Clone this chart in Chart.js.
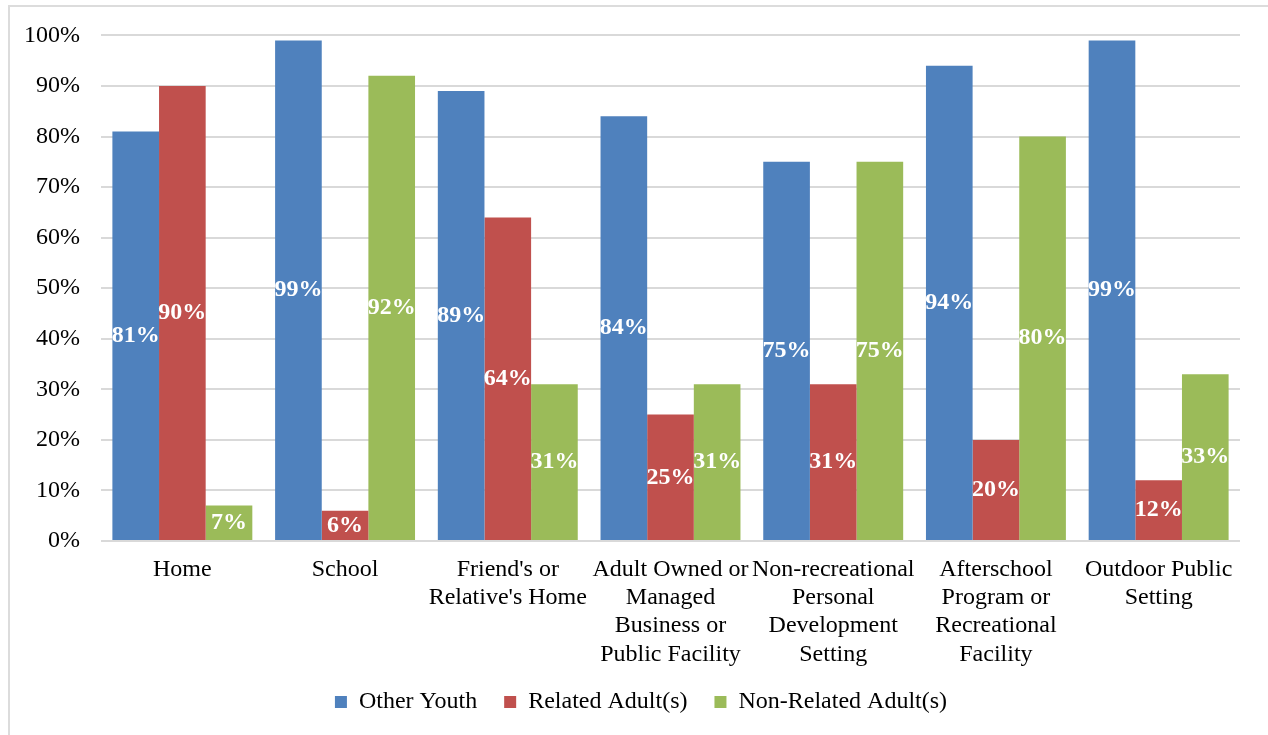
<!DOCTYPE html>
<html>
<head>
<meta charset="utf-8">
<script src="https://cdn.jsdelivr.net/npm/chart.js@4"></script>
<style>
  html, body { margin: 0; padding: 0; background: #fff; overflow: hidden; }
  #frame {
    position: absolute; left: 8px; top: 5px;
    width: 1400px; height: 900px;
    border: 2px solid #dcdcdc;
  }
  #wrap { position: absolute; left: 0; top: 0; width: 1268px; height: 735px; }
</style>
</head>
<body>
<div id="frame"></div>
<div id="wrap"><canvas id="chart"></canvas></div>
<script>
const categories = [
    'Home',
    'School',
    ["Friend's or", "Relative's Home"],
    ['Adult Owned or', 'Managed', 'Business or', 'Public Facility'],
    ['Non-recreational', 'Personal', 'Development', 'Setting'],
    ['Afterschool', 'Program or', 'Recreational', 'Facility'],
    ['Outdoor Public', 'Setting']
];
const otherYouth = [81, 99, 89, 84, 75, 94, 99];
const relatedAdults = [90, 6, 64, 25, 31, 20, 12];
const nonRelatedAdults = [7, 92, 31, 31, 75, 80, 33];

const serif = '"Liberation Serif", "Times New Roman", serif';

// white bold value label in the middle of each bar
const barLabels = {
    id: 'barLabels',
    afterDatasetsDraw(chart) {
        const ctx = chart.ctx;
        ctx.save();
        ctx.font = 'bold 24px ' + serif;
        ctx.fillStyle = '#ffffff';
        ctx.textAlign = 'center';
        ctx.textBaseline = 'middle';
        chart.data.datasets.forEach((ds, i) => {
            chart.getDatasetMeta(i).data.forEach((bar, j) => {
                const y = (bar.y + bar.base) / 2;
                ctx.fillText(ds.data[j] + '%', bar.x, y);
            });
        });
        ctx.restore();
    }
};

// nudge the legend right and up a little
const legendShift = {
    id: 'legendShift',
    afterUpdate(chart) {
        const lg = chart.legend;
        if (lg) {
            lg.left += 16;
            lg.right += 16;
            lg.top -= 4;
            lg.bottom -= 4;
        }
    }
};

const ctx = document.getElementById('chart').getContext('2d');
new Chart(ctx, {
    type: 'bar',
    data: {
        labels: categories,
        datasets: [
            { label: 'Other Youth', data: otherYouth, backgroundColor: '#4f81bd' },
            { label: 'Related Adult(s)', data: relatedAdults, backgroundColor: '#c0504d' },
            { label: 'Non-Related Adult(s)', data: nonRelatedAdults, backgroundColor: '#9bbb59' }
        ]
    },
    options: {
        responsive: true,
        maintainAspectRatio: false,
        animation: false,
        layout: { padding: { left: 10, top: 35, right: 28, bottom: 7 } },
        datasets: {
            bar: { categoryPercentage: 0.86, barPercentage: 1 }
        },
        scales: {
            x: {
                grid: { display: false },
                border: { display: false },
                ticks: {
                    color: '#000',
                    font: { family: serif, size: 24, lineHeight: 1.17 },
                    maxRotation: 0,
                    autoSkip: false,
                    padding: 7
                },
                afterFit(scale) { scale.height = 126; }
            },
            y: {
                min: 0,
                max: 100,
                grid: { color: '#d9d9d9', lineWidth: 2, drawTicks: false },
                border: { display: false },
                ticks: {
                    stepSize: 10,
                    color: '#000',
                    padding: 21,
                    font: { family: serif, size: 24 },
                    callback: v => v + '%'
                },
                afterFit(scale) { scale.width = 91; }
            }
        },
        plugins: {
            tooltip: { enabled: false },
            legend: {
                position: 'bottom',
                labels: {
                    color: '#000',
                    boxWidth: 12,
                    boxHeight: 12,
                    padding: 27,
                    font: { family: serif, size: 24 }
                }
            }
        }
    },
    plugins: [barLabels, legendShift]
});
</script>
</body>
</html>
